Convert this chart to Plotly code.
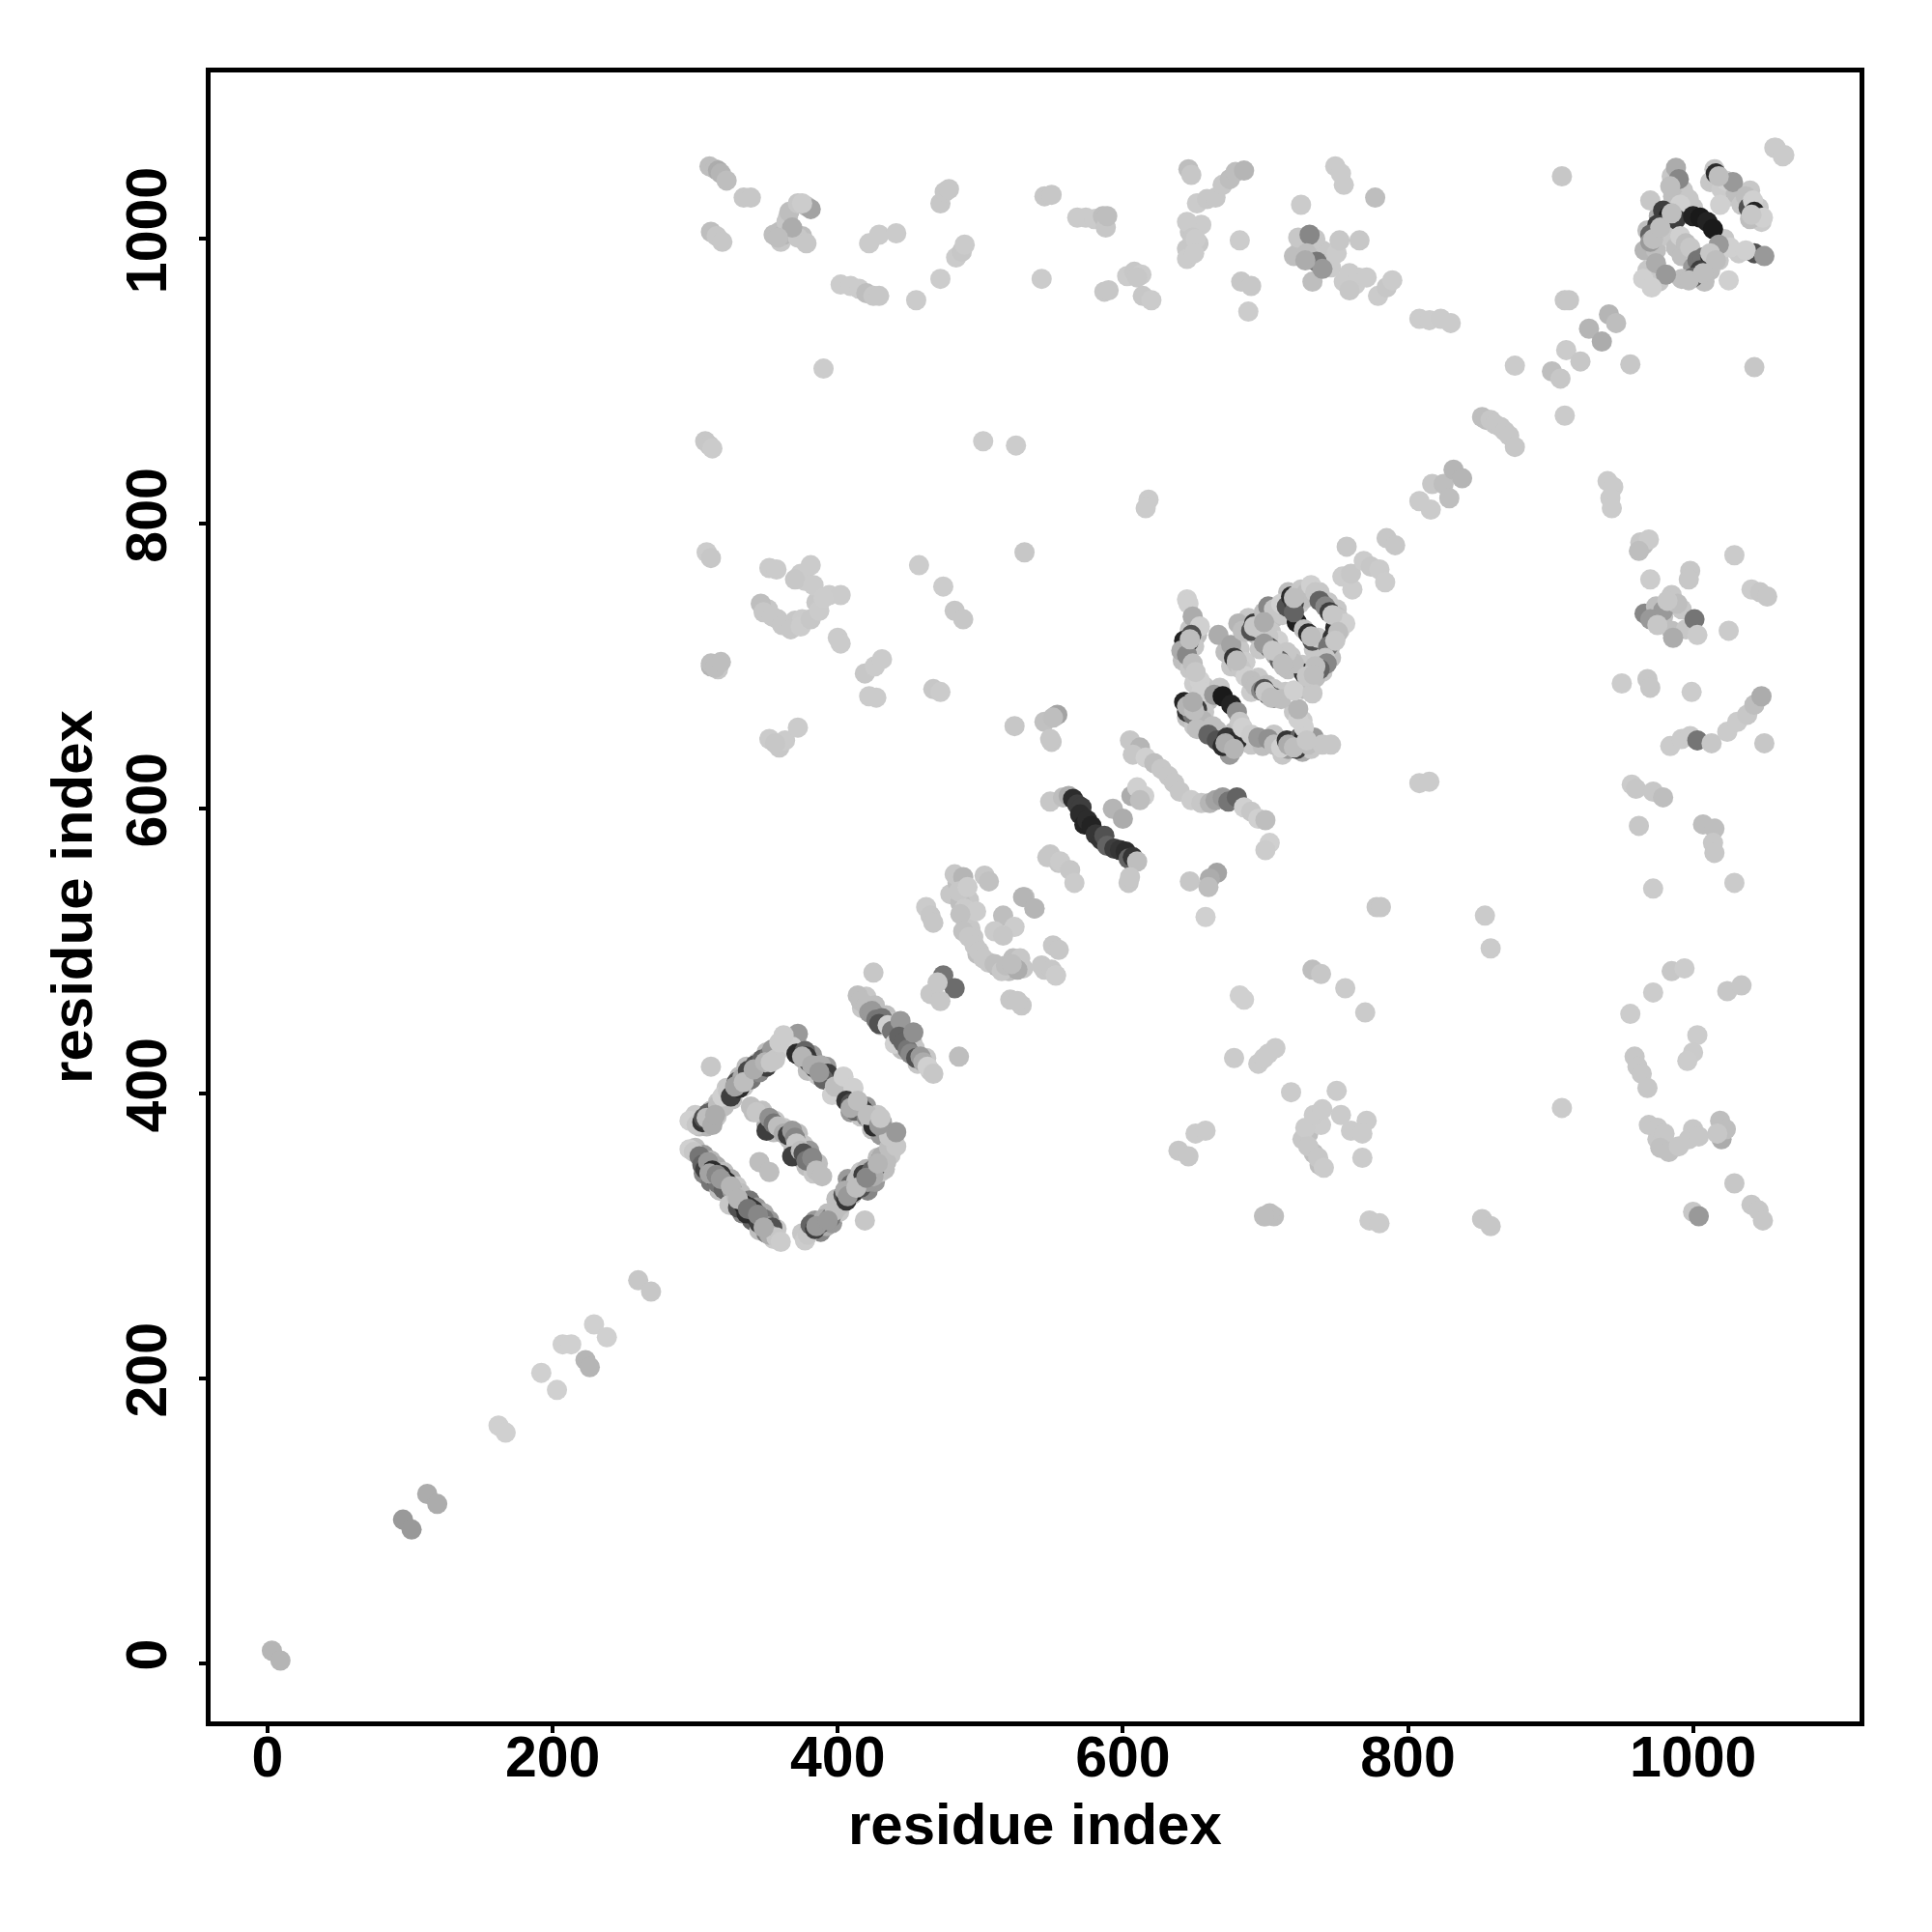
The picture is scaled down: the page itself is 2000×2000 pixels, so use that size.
import plotly.graph_objects as go

# (residue i, residue j, contact score), region by region
low_diagonal = [(3,9,.15),(9,2,.15),(95,101,.3),(101,94,.3),(112,119,.2),(119,112,.2),(162,167,0),(167,162,0),
    (192,204,0),(203,192,0),(207,224,0),(213,224,0),(223,213,.15),(226,208,.15),(229,238,0),(238,229,0),(260,269,.05),(269,261,.05)]

box_lower_left = [(296,361,0),(299,359,.05),(303,356,.5),(305,350,.6),(307,347,.8),(309,352,.3),(312,346,.9),(314,341,.7),(318,343,.85),
    (316,337,.5),(322,338,.95),(320,333,.6),(326,332,.3),(324,322,.05),(329,328,.1),(330,320,.7),(334,322,.95),(336,316,.9),(338,320,.85),(341,318,.85),
    (343,313,.9),(345,309,.8),(348,312,.5),(350,307,.3),(354,306,.7),(352,301,.2),(357,299,.05),(360,296,.02)]
box_lower_right = [(377,297,.02),(379,301,.05),(381,308,.6),(384,305,.8),(388,309,.7),(390,312,.2),(395,313,.5),(398,318,.1),(402,322,.1),(404,329,.7),
    (406,325,.85),(409,336,.6),(411,331,.9),(413,339,.1),(416,334,.7),(418,343,.8),(421,338,.3),(424,346,.6),(427,349,.6),(425,342,.2),(429,352,.5),(431,356,.2),(434,352,.1),(436,362,.1),(441,363,.05),(419,311,.05)]
box_upper_right = [(372,442,.3),(368,433,0),(371,428,.9),(377,430,.6),(380,422,.7),(378,426,.85),(384,418,.85),(388,420,.2),(393,414,.8),(390,410,.6),(396,399,0),(398,405,.1),(404,412,0),(411,404,0),
    (406,395,.85),(409,393,.7),(412,388,.6),(415,392,.8),(418,388,.8),(420,384,.4),(423,381,.1),(427,381,.85),(425,377,.9),(430,377,.6),(433,374,.3),(436,370,.05),(441,373,.3)]
box_upper_left = [(296,381,0),(301,378,.05),(305,380,.85),(306,383,.7),(309,386,.6),(313,388,.6),(311,381,.8),(316,392,.1),(319,398,0),(323,402,.05),(325,398,.8),(329,408,.7),(331,404,.9),(333,411,.2),
    (337,416,.75),(339,410,.5),(342,420,.7),(345,415,.4),(347,424,.6),(350,419,.8),(352,427,.5),(354,431,.3),(356,424,.05),(359,436,.02),(362,441,.02),(311,419,.05)]
box_inner = [(339,391,.1),(343,387,.05),(350,374,.8),(352,383,.35),(355,379,.5),(358,377,.1),(362,372,.2),(365,371,.8),(368,374,.3),(370,369,.4),(371,365,.05),(368,356,.8),(374,360,.1),(376,358,.7),
    (378,353,.5),(382,355,.4),(385,346,.1),(389,342,.1),(345,352,.1),(352,345,.1)]
strand_415 = [(414,469,.1),(416,465,.1),(420,462,.1),(422,457,.3),(424,458,.3),(427,452,.5),(431,453,.5),(429,449,.7),(435,448,0),(438,444,.5),(444,451,.3),(440,435,0),(443,440,.6),(446,436,.6),(449,431,.5),(453,443,.35),
    (451,428,.4),(455,425,.7),(458,426,.3),(460,422,.2),(463,419,0),(467,414,.05),(425,485,.05),(485,426,.1)]

mid_diagonal = [(482,554,.05),(488,552,.15),(503,553,.05),(506,549,.08),(485,542,.05),(491,545,.02),(489,530,.03),(497,528,.02),(486,526,.08),(462,531,.03),(465,525,.05),(467,520,.05),
    (488,514,.08),(492,510,.05),(496,504,.05),(499,500,.05),(502,495,.05),(510,491,.1),(515,486,.05),(518,490,.1),(528,495,.05),(526,487,.2),(522,491,.1),(543,490,.05),(550,487,.05),(553,483,.02),(531,538,.08),(538,530,.08),
    (516,525,.1),(524,517,.02),(510,514,.03),(516,511,.05),(551,504,.05),(555,501,.05),(521,466,.05),(529,462,.05),(526,465,.05),(549,568,.05),(555,562,.05),
    (474,483,.5),(482,474,.55),(465,470,.05),(472,465,.05),(470,478,.05),(530,538,.15),(538,530,.15)]
dark_helix = [(549,605,.05),(558,608,.1),(562,609,.2),(565,607,.9),(568,603,.8),(571,601,.8),(570,596,.9),(573,589,.95),(575,592,.9),(578,588,.95),(581,582,.85),(585,578,.85),(587,581,.7),(589,574,.6),
    (594,572,.8),(598,571,.85),(602,570,.9),(604,565,.6),(607,566,.85),(610,563,.1),(604,548,.05),(605,552,.05),(550,647,.05),(593,600,.15),(600,593,.2),(606,609,.2),(610,615,0),(615,609,0),(612,606,.1)]
mid_band = [(605,648,.05),(612,643,.15),(607,638,.05),(616,636,0),(622,632,.1),(627,628,.05),(632,623,.05),(636,618,.05),(640,612,.05),(648,606,.02),(655,604,.05),(661,604,.15),(665,606,.25),(670,608,.3),(674,605,.5),(680,608,.6),
    (685,601,0),(690,598,.05),(695,593,0),(700,592,.1),(703,576,0),(700,571,.02),(547,566,.05),(556,563,.03),(563,557,.05),(566,548,.03),(647,549,.05),(666,555,.25),(661,551,.2),(660,545,.1),(658,524,0),
    (682,469,0),(685,466,0),(553,483,.02),(545,661,.08),(549,649,.05),(554,666,.25),(551,664,.1),(524,658,.05)]
sheet_lower = [(645,747,0),(646,744,0),(649,735,.2),(654,728,0),(643,718,.95),(646,717,.85),(648,722,.7),(641,711,.2),(645,708,.4),(649,702,.1),(654,690,0),(651,696,.05),(655,682,0),(664,680,.3),(670,679,1),(676,673,.95),(680,668,.35),(682,661,.05),
    (643,675,.95),(647,672,.9),(645,668,.85),(649,666,.5),(652,670,.8),(656,662,.15),(652,656,.1),(663,658,.1),(660,652,.6),(666,648,.7),(670,644,.9),(676,644,.95),(673,650,.85),(680,648,.9),(684,657,0),(690,652,.02),(695,650,.3),(702,649,.35),(706,645,.1),
    (711,643,0),(715,648,.85),(718,645,.95),(722,642,.8),(724,650,.6),(727,650,.9),(734,650,.3),(730,645,.1),(740,645,.05),(746,645,.05),(727,657,0),(723,663,0),(723,670,.15),
    (667,722,.2),(676,715,.25),(678,706,.85),(680,702,.1),(683,698,.05),(686,693,0),(690,690,.1),(693,686,.1),(697,683,.4),(699,684,.7),(702,680,.9),(706,678,.6),(711,677,.1),(720,683,0),(733,681,.05)]
sheet_upper = [(681,730,.15),(684,725,.1),(690,725,.7),(692,730,.85),(695,727,.05),(697,732,.8),(699,738,.1),(702,742,.4),(706,740,.05),(711,744,0),(715,742,.7),(718,749,.9),(720,745,.8),(722,750,.1),(725,754,.05),(729,752,.1),(732,757,0),(735,752,.05),
    (738,746,.6),(742,742,.4),(745,738,.8),(750,735,.1),(749,727,.9),(752,733,.05),(756,730,0),(722,731,.98),(720,738,.6),(727,726,.1),(730,723,.9),(733,718,.7),(737,720,.05),(747,720,.85),(744,714,.5),(742,706,.05),
    (743,702,.4),(738,698,.6),(732,696,.9),(727,695,.85),(735,700,.1),(720,702,.1),(709,718,0),(702,721,.05),(703,713,.7),(699,716,.3),(707,708,.2),(715,710,.05),(710,704,.6),(713,700,.1)]

upper_diagonal = [(757,784,.05),(754,763,.02),(761,754,.02),(760,765,.05),(769,774,.03),(774,770,.05),(780,768,.03),(784,759,.02),(785,790,.05),(791,785,.05),(808,816,.03),(816,810,.03),(817,828,.05),(825,828,.1),(829,818,.1),(832,838,.15),(838,832,.15),
    (852,875,.1),(855,873,.1),(858,873,.05),(861,870,.05),(865,868,.05),(868,865,.05),(871,862,.05),(875,854,.05),(875,911,.03),(901,907,.1),(907,902,.05),(911,922,.03),(921,914,.05),(927,937,.15),(936,928,.2),(941,947,.15),(946,941,.1),
    (910,957,.05),(913,957,.05),(956,912,.05),(910,876,.03),(908,1044,.05),(1043,910,.05),(1057,1064,.03),(1064,1059,.03)]

top_left = [(310,1051,.1),(314,1049,.1),(316,1048,.2),(318,1046,.15),(322,1041,.1),(334,1029,.05),(339,1029,.05),(311,1005,.1),(315,1002,.05),(319,998,.05),
    (359,1005,.1),(362,1003,.15),(364,1012,.05),(366,1019,.1),(372,1025,.05),(378,1023,.1),(381,1021,.25),(372,1001,.05),(378,997,.05),(368,1008,.2),(358,1001,.1),(375,1025,.02),
    (402,968,.02),(409,967,.02),(415,965,.02),(420,962,.1),(425,960,.05),(429,960,.05),(422,997,.03),(429,1003,.03),(441,1004,.03),(455,957,.03),(472,972,.02),(472,1025,.05),(475,1033,.05),(478,1035,.05),
    (483,987,.03),(487,991,.05),(489,996,.03),(390,909,.02)]
top_mid = [(543,972,.03),(545,1030,.05),(550,1031,.05),(568,1015,.03),(574,1015,.03),(580,1014,.03),(586,1016,.1),(588,1008,.05),(589,1016,.1),(587,963,.05),(590,964,.05),(603,974,.03),(608,977,.05),(613,975,.03),(610,973,.05),(614,960,.05),(620,957,.03),
    (646,1049,.1),(648,1045,.05),(645,1012,.03),(649,1001,.05),(651,1000,.03),(645,986,.03),(650,990,.03),(652,1025,.03),(659,1028,.05),(665,1029,.05),(670,1038,.05),(675,1042,.1),(679,1047,.1),(685,1048,.15),(682,999,.02),(683,970,.05),(690,967,.05),(688,949,.02),
    (725,1024,.03),(720,988,.1),(723,1001,.05),(731,1003,.4),(729,990,.1),(736,984,.5),(733,970,.1),(740,979,.3),(728,985,.2),(750,990,.03),(752,999,.05),(766,999,.05),(759,976,.03),(765,973,.03),(759,964,.05),(749,1051,.03),(753,1046,.03),(755,1038,.03),
    (777,1029,.1),(779,960,.03),(785,966,.05),(789,971,.03),(771,973,.03),(808,944,.02),(815,943,.02),(823,944,.03),(830,941,.03)]

mid_left = [(307,858,.05),(310,855,.05),(312,853,.03),(308,780,.02),(311,776,.05),(311,702,.1),(314,699,.1),(318,703,.1),(346,744,.1),(352,769,.03),(357,768,.03),(348,738,.05),(354,735,.05),(361,729,.05),(367,726,.05),(374,728,.02),(381,733,.05),(387,739,.03),(394,750,.02),(402,750,.03),
    (374,765,.03),(381,771,.03),(370,761,.05),(383,757,.03),(390,748,.02),(400,720,.03),(402,716,.03),(419,695,.05),(426,700,.03),(431,705,.03),(422,679,.03),(427,678,.03),(352,649,.03),(359,643,.05),(363,648,.03),(372,657,.03),(356,646,.05),
    (457,771,.02),(474,756,.02),(482,739,.05),(488,733,.05),(467,684,.05),(472,682,.03),(502,858,.02),(525,855,.02),(531,780,.05),(618,817,.03),(616,811,.03)]

right_column = [(940,830,.03),(944,826,.03),(942,818,.03),(943,811,.03),(963,787,.05),(969,789,.03),(962,781,.1),(970,761,.02),(998,767,.05),(997,761,.05),(985,750,.05),(979,739,.3),(970,733,.3),(975,729,.05),(986,720,.2),(1001,733,.5),(1003,722,.03),(989,744,.1),(982,746,.05),
    (1029,778,.03),(1025,725,.03),(1041,754,.02),(1047,752,.05),(1052,749,.05),(950,688,.02),(968,691,.05),(970,685,.05),(999,682,.02),(984,644,.03),(992,649,.03),(998,651,.03),(1003,648,.5),(1013,646,.05),(1024,654,.03),(1031,661,.03),(1038,666,.05),(1043,673,.1),(1048,679,.2),(1050,646,.05),
    (957,617,.03),(960,614,.05),(962,588,.05),(972,612,.05),(979,608,.1),(972,544,.03),(1007,589,.1),(1015,586,.1),(1014,576,.05),(1015,569,.05),(1029,548,.03),
    (956,456,.02),(972,471,.02),(985,486,.05),(994,488,.02),(1003,441,.02),(1000,429,.03),(996,423,.02),(1024,472,.05),(1034,476,.05),(959,426,.05),(961,419,.05),(964,414,.05),(968,404,.05),
    (969,378,.05),(975,376,.05),(980,372,.05),(977,362,.08),(983,359,.08),(990,363,.05),(997,368,.05),(1004,370,.05),(1019,381,.1),(1023,375,.1),(1017,372,.05),(1029,337,.05),(1000,317,.05),(1004,314,.3),(1041,322,.05),(1046,318,.05),(1049,311,.05)]
lower_middle = [(908,390,.03),(854,525,.03),(858,502,.03),(808,618,.03),(815,619,.03),(852,312,.05),(858,307,.05),(773,311,.03),(780,309,.03),(778,531,.05),(781,531,.05),(756,474,.03),(770,457,.03),(733,487,.1),(739,484,.05),(678,425,.03),(695,421,.03),(702,428,.03),(707,432,.03),(699,425,.03),
    (718,401,.03),(750,402,.03),(728,376,.03),(730,363,.05),(737,355,.05),(741,348,.03),(734,385,.03),(740,389,.03),(753,385,.03),(760,374,.03),(771,381,.03),(768,372,.03),(768,355,.03),(639,360,.05),(646,356,.05),(651,372,.03),(658,374,.03),(703,316,.1),(699,314,.1)]
corner_cluster = [(988,1050,.2),(990,1042,.4),(970,1027,.05),(997,1028,.05),(984,1037,.1),(991,1024,0),(979,1020,.8),(983,1016,.98),(988,1014,.8),(1000,1016,.95),(1005,1015,1),(1010,1012,.95),(1014,1007,1),(975,1010,.8),(970,1003,.6),(970,998,.3),(991,1002,0),(995,997,.1),(998,994,.05),
    (1003,985,.5),(1007,987,.5),(1012,988,.9),(1014,986,.95),(1026,994,0),(1018,996,.3),(1005,978,.8),(1000,973,.6),(997,971,.1),(974,983,.2),(981,975,.3),(965,972,0),(971,966,0),(1025,971,0),
    (1015,1049,.05),(1016,1046,.9),(1023,1041,0),(1028,1040,.3),(1037,1030,.1),(1039,1022,.7),(1042,1027,0),(1043,1019,.95),(1049,1015,0),(1019,1024,0),(1043,990,.7),(1037,992,0),(1050,988,.3),(1058,1064,.03),(1063,1058,.03)]

# weaker contacts lying under the strong ones, widening the bands
box_weak_lower_left = [(300,362,.1),(306,357,.3),(311,353,.15),(306,344,.4),(315,349,.2),(311,338,.5),(320,345,.1),(317,332,.1),(325,340,.2),(329,335,.05),(327,326,.3),(332,330,.1),(338,325,.5),(333,316,.4),(343,320,.3),(340,311,.6),(348,316,.2),(345,304,.1),(352,311,.3),(350,302,.5),(357,305,.05),(355,298,.03)]
box_weak_lower_right = [(375,302,.05),(384,311,.3),(380,303,.2),(388,303,.4),(393,316,.1),(392,307,.2),(396,309,.3),(401,317,.05),(403,327,.2),(399,326,.1),(410,329,.1),(407,340,.3),(414,333,.2),(416,345,.05),(421,332,.4),(420,347,.15),(426,338,.3),(428,355,.1),(430,345,.05),(433,347,.1),(437,357,.05)]
box_weak_upper_right = [(366,438,.1),(372,434,.05),(375,425,.2),(382,427,.3),(379,416,.1),(386,413,.05),(392,419,.3),(396,408,.05),(400,406,.05),(403,398,.1),(410,398,.05),(413,395,.2),(409,387,.3),(416,384,.05),(420,391,.3),(424,375,.1),(428,385,.05),(431,380,.2),(430,371,.3)]
box_weak_upper_left = [(300,385,.03),(303,377,.1),(308,377,.15),(311,388,.1),(315,384,.05),(316,394,.05),(320,391,.1),(322,404,.05),(326,396,.1),(327,403,.3),(331,412,.1),(334,405,.05),(336,419,.1),(340,413,.2),(344,422,.05),(346,418,.1),(350,429,.1),(353,424,.2),(358,430,.05),(361,434,.05),(365,438,.02)]
box_weak_inner = [(341,387,.1),(347,388,.08),(350,378,.2),(356,381,.05),(355,373,.1),(362,376,.05),(366,368,.1),(372,372,.1),(369,361,.1),(376,364,.05),(374,355,.2),(380,360,.3),(378,349,.1),(386,351,.1),(383,344,.05)]
strand_weak = [(417,460,.05),(420,468,.05),(426,462,.1),(430,448,.05),(434,455,.1),(438,450,.05),(441,442,.1),(447,444,.05),(445,431,.1),(452,437,.1),(454,432,.05),(456,421,.05),(462,425,.05),(465,416,.05)]
sheet_weak = [(647,726,.05),(652,722,.1),(650,714,.05),(642,704,.1),(647,698,.05),(657,686,.05),(650,688,.02),(660,676,.1),(668,685,.05),(645,664,.1),(652,662,.2),(657,668,.05),(650,658,.05),(658,656,.05),(666,655,.1),(670,650,.2),(678,654,.1),(675,638,.3),(686,650,.03),(690,645,.05),(698,644,.1),(706,652,.05),(712,638,.05),(716,642,.3),(726,640,.2),(732,642,.05),(726,662,.02),(720,668,.05),(672,710,.1),(682,712,.05),(676,700,.05),(686,703,.02),(690,682,.03),(695,692,.05),(701,687,.1),(706,684,.05),(714,682,.05),(726,684,.1),(686,724,.1),(688,734,.05),(694,722,.1),(700,726,.05),(706,734,.1),(712,736,.05),(716,752,.1),(724,744,.05),(728,748,.1),(738,752,.05),(744,745,.05),(752,725,.02),(750,740,.05),(734,712,.05),(745,712,.1),(750,722,.05),(740,696,.05),(746,706,.1),(735,692,.1),(726,701,.05),(716,698,.1),(704,724,.05),(696,712,.05),(708,712,.1),(718,707,.05)]
corner_weak = [(985,1044,.05),(993,1034,.05),(1000,1022,.05),(986,1030,.1),(976,1016,.2),(968,1006,.1),(966,992,.15),(974,992,.1),(982,1002,.05),(988,994,.1),(992,988,.1),(1000,980,.3),(1006,980,.2),(1012,978,.1),(1018,985,.05),(1022,1000,.05),(1008,970,.1),(992,972,.1),(976,970,.05),(968,978,.05),(1012,1040,.05),(1020,1035,.03),(1026,1030,.03),(1030,1032,.1),(1034,1024,.05),(1040,1034,.05),(1046,1022,.05),(1048,1012,.03),(1040,1014,.1),(1032,990,.03)]
diagonal_weak = [(479,540,.05),(484,548,.1),(492,536,.05),(486,534,.1),(490,522,.05),(493,516,.05),(498,498,.1),(506,492,.05),(512,489,.2),(520,486,.1),(523,495,.1),(530,488,.05),(545,487,.05),(495,510,.05)]
scattered_weak = [(370,732,.05),(358,733,.05),(351,740,.05),(375,733,.03),(385,745,.05),(377,760,.03),(365,1015,.05),(370,1004,.05),(375,1002,.1),(360,998,.05),(355,1003,.1),(979,735,.1),(966,737,.4),(974,742,.1),(992,740,.05),(985,725,.1),(995,726,.05),(965,785,.1),(985,362,.05),(975,368,.05),(1000,375,.05),(1020,368,.2),(730,372,.1),(734,358,.1),(726,368,.05),(738,350,.1),(739,378,.02),(645,993,.05),(647,1005,.05),(655,1010,.03),(653,997,.05),(725,995,.05),(740,992,.05),(735,1000,.05),(746,980,.03),(755,970,.03),(763,968,.02),(700,314,.05),(706,314,.1),(311,700,.15),(316,698,.05)]

# lighter contacts partly covering the dark ones, leaving crescents
box_top = [(310,344,.25),(315,343,.4),(318,340,.3),(325,335,.15),(330,326,.15),(337,319,.5),(344,315,.4),(348,306,.2),
    (385,307,.3),(393,311,.3),(405,332,.2),(407,328,.3),(413,334,.1),(420,341,.4),(428,351,.15),
    (375,426,.15),(382,420,.2),(387,415,.3),(409,390,.2),(414,395,.1),(421,385,.1),(429,378,.3),(430,383,.05),
    (308,383,.1),(312,378,.2),(314,385,.2),(328,405,.25),(334,408,.1),(341,417,.2),(349,422,.15),(353,422,.05)]
sheet_top = [(647,719,.1),(645,672,.15),(650,669,.1),(649,675,.2),(672,646,.2),(678,642,.15),(716,645,.2),(720,643,.1),(729,648,.05),(680,704,.1),(700,682,.05),(704,678,.1),(692,728,.05),(699,731,.2),(720,748,.1),(747,736,.05),(751,724,.1),(732,721,.1),(749,718,.05),(729,693,.05),(734,694,.1),(705,711,.05),(712,702,.1)]
corner_top = [(972,1000,.1),(977,1008,.1),(985,1018,.1),(1012,990,.05),(1016,985,.1),(1007,976,.1),(1041,1017,.05),(1018,1044,.1)]

regions = [box_weak_lower_left, box_weak_lower_right, box_weak_upper_right, box_weak_upper_left, box_weak_inner, strand_weak, sheet_weak, corner_weak, diagonal_weak, scattered_weak,
           low_diagonal, box_lower_left, box_lower_right, box_upper_right, box_upper_left, box_inner, strand_415, mid_diagonal,
           dark_helix, mid_band, sheet_lower, sheet_upper, upper_diagonal, top_left, top_mid, mid_left, right_column, lower_middle, corner_cluster,
           box_top, sheet_top, corner_top]
tick_values = [0, 200, 400, 600, 800, 1000]
axis_title = "residue index"

points = [p for region in regions for p in region]
fig = go.Figure(go.Scatter(
    x=[p[0] for p in points], y=[p[1] for p in points], mode="markers",
    marker=dict(size=21, color=[p[2] for p in points], cmin=0, cmax=1, line_width=0,
                colorscale=[[0, "#d0d0d0"], [1, "#1a1a1a"]], showscale=False),
    hoverinfo="skip"))

tick_font = dict(family="Liberation Sans", size=59, color="black", weight=700)
title_font = dict(family="Liberation Sans", size=60, color="black", weight=700)
axis = dict(tickvals=tick_values, showgrid=False, zeroline=False, showline=True, mirror=True, linecolor="black", linewidth=5,
            ticks="outside", ticklen=7, tickwidth=4, tickcolor="black", tickfont=tick_font)
fig.update_xaxes(axis, range=[-40, 1116.8], ticklabelstandoff=-26)
fig.update_yaxes(axis, range=[-40.7, 1116.9], tickangle=-90, ticklabelstandoff=10,
                 title=dict(text=axis_title, font=title_font, standoff=6))
fig.add_annotation(text=axis_title, xref="paper", yref="paper", x=0.5, y=0, yanchor="middle", yshift=-106,
                   showarrow=False, font=title_font)
fig.update_layout(width=2000, height=2000, margin=dict(l=218, r=75, t=75, b=218, autoexpand=False),
                  paper_bgcolor="white", plot_bgcolor="white", showlegend=False)
fig.write_html("out.html", post_script="document.body.style.margin='0';", config=dict(displayModeBar=False))
